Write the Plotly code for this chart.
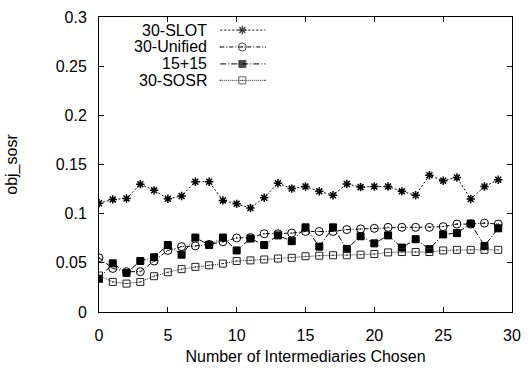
import plotly.graph_objects as go

x_vals = list(range(30))

slot = [0.1106, 0.1145, 0.1155, 0.1300, 0.1237, 0.1152, 0.1180, 0.1325, 0.1325, 0.1135,
        0.1100, 0.1057, 0.1162, 0.1310, 0.1255, 0.1276, 0.1227, 0.1188, 0.1302, 0.1270,
        0.1276, 0.1276, 0.1227, 0.1188, 0.1390, 0.1335, 0.1368, 0.1149, 0.1276, 0.1345]

unified = [0.0551, 0.0443, 0.0410, 0.0410, 0.0518, 0.0626, 0.0665, 0.0672, 0.0688, 0.0714,
           0.0753, 0.0757, 0.0796, 0.0796, 0.0802, 0.0819, 0.0819, 0.0819, 0.0838, 0.0845,
           0.0851, 0.0861, 0.0861, 0.0861, 0.0861, 0.0868, 0.0894, 0.0894, 0.0904, 0.0894]

split15 = [0.0338, 0.0495, 0.0397, 0.0518, 0.0557, 0.0681, 0.0583, 0.0757, 0.0681, 0.0757,
           0.0626, 0.0747, 0.0681, 0.0779, 0.0720, 0.0861, 0.0665, 0.0861, 0.0642, 0.0770,
           0.0698, 0.0779, 0.0655, 0.0740, 0.0639, 0.0789, 0.0802, 0.0900, 0.0672, 0.0851]

sosr = [0.0371, 0.0306, 0.0289, 0.0306, 0.0364, 0.0404, 0.0436, 0.0459, 0.0475, 0.0492,
        0.0518, 0.0525, 0.0534, 0.0544, 0.0551, 0.0567, 0.0573, 0.0577, 0.0577, 0.0583,
        0.0590, 0.0606, 0.0610, 0.0610, 0.0610, 0.0626, 0.0632, 0.0632, 0.0632, 0.0632]

series_names = ["30-SLOT", "30-Unified", "15+15", "30-SOSR"]
series_values = [slot, unified, split15, sosr]

y_tickvals = [0, 0.05, 0.1, 0.15, 0.2, 0.25, 0.3]
y_ticktext = ["0", "0.05", "0.1", "0.15", "0.2", "0.25", "0.3"]
x_tickvals = [0, 5, 10, 15, 20, 25, 30]

styles = [
    dict(dash="2px,2px", symbol="asterisk-open", size=7, mlw=1.5, color="black"),
    dict(dash="4px,2px,1px,2px", symbol="circle-open-dot", size=8, mlw=1, color="black"),
    dict(dash="6px,2px,1px,2px", symbol="square", size=7, mlw=1, color="black"),
    dict(dash="1px,1px", symbol="square-open-dot", size=7, mlw=1, color="#222222"),
]

FONT = "Liberation Sans, Arial, sans-serif"
FS = 16

fig = go.Figure()
for name, vals, st in zip(series_names, series_values, styles):
    fig.add_trace(go.Scatter(
        x=x_vals, y=vals, mode="lines+markers", name=name, showlegend=False,
        line=dict(color=st["color"], width=1, dash=st["dash"]),
        marker=dict(symbol=st["symbol"], size=st["size"], color=st["color"],
                    line=dict(color=st["color"], width=st["mlw"])),
    ))

# manual legend (text on the left, sample on the right) on an overlay pixel axis
W, H = 412, 305
row_y = [13.5, 31.0, 48.5, 65.5]
for name, st, ry in zip(series_names, styles, row_y):
    fig.add_trace(go.Scatter(
        x=[121, 143, 166], y=[ry, ry, ry], mode="lines+markers", xaxis="x2", yaxis="y2",
        showlegend=False, hoverinfo="skip",
        line=dict(color=st["color"], width=1, dash=st["dash"]),
        marker=dict(symbol=st["symbol"], size=[0, st["size"], 0], color=st["color"],
                    line=dict(color=st["color"], width=[0, st["mlw"], 0])),
    ))
    fig.add_annotation(x=110, y=ry, xref="x2", yref="y2", text=name, showarrow=False,
                       xanchor="right", yanchor="middle",
                       font=dict(family=FONT, size=FS, color="black"))

axis_common = dict(showline=True, linecolor="black", linewidth=1, mirror="ticks",
                   ticks="inside", ticklen=5, tickcolor="black", showgrid=False,
                   zeroline=False, tickfont=dict(family=FONT, size=FS, color="black"))

fig.update_layout(
    width=531, height=371,
    margin=dict(l=99, r=19, t=9, b=57),
    paper_bgcolor="white", plot_bgcolor="white",
    font=dict(family=FONT, size=FS, color="black"),
    xaxis=dict(range=[0, 30], tickvals=x_tickvals, ticklabelstandoff=9,
               title=dict(text="Number of Intermediaries Chosen", standoff=7,
                          font=dict(family=FONT, size=FS)),
               **axis_common),
    yaxis=dict(range=[0, 0.3], tickvals=y_tickvals, ticktext=y_ticktext,
               ticklabelstandoff=8,
               title=dict(text="obj_sosr", standoff=34, font=dict(family=FONT, size=FS)),
               **axis_common),
    xaxis2=dict(range=[0, W], overlaying="x", visible=False, domain=[0, 1]),
    yaxis2=dict(range=[H, 0], overlaying="y", visible=False),
)

fig.write_html("out.html")
